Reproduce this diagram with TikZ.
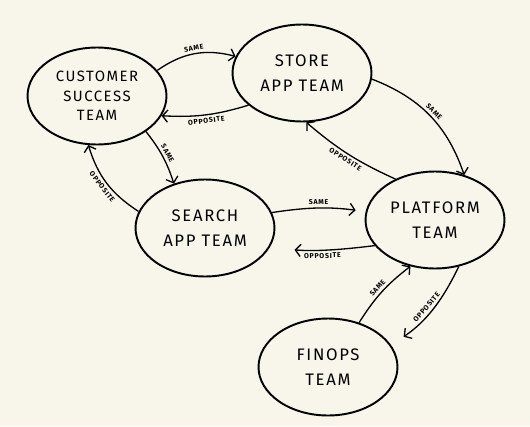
\documentclass[tikz,border=0pt]{standalone}
\usepackage{fontspec}
\setmainfont[LetterSpace=10]{Fira Sans}
\usetikzlibrary{shapes.geometric,arrows.meta}
\definecolor{paper}{HTML}{F8F6EA}

\begin{document}
\begin{tikzpicture}[x=0.02cm,y=-0.02cm,
  team/.style={ellipse,draw,line width=1.1pt,minimum width=2.78cm,minimum height=1.94cm,inner sep=0pt,align=center,font=\fontsize{9.5}{14}\selectfont},
  link/.style={-{Straight Barb[length=3pt,width=7pt]},line width=0.75pt},
  tag/.style={font=\fontsize{4}{5}\selectfont\bfseries,sloped,inner sep=1.5pt}]

\fill[paper] (0,0) rectangle (530,426);

\node[team,font=\fontsize{8.5}{11}\selectfont] (cust) at (97,96) {CUSTOMER\\SUCCESS\\TEAM};
\node[team] (store) at (302,73) {STORE\\APP TEAM};
\node[team] (search) at (205,228) {SEARCH\\APP TEAM};
\node[team] (plat) at (435,220) {PLATFORM\\TEAM};
\node[team] (fin) at (328,367) {FINOPS\\TEAM};

\draw[link] (cust.23) to[bend left=25] node[tag,above]{SAME} (store.166);
\draw[link] (store.211) to[bend left=10] node[tag,below]{OPPOSITE} (cust.-17);
\draw[link] (cust.-36) to[bend left=10] node[tag,above]{SAME} (search.125);
\draw[link] (search.166) to[bend left=20] node[tag,below]{OPPOSITE} (cust.260);
\draw[link] (store.-5) to[bend left=25] node[tag,above]{SAME} (plat.57);
\draw[link] (plat.134) to[bend left=8] node[tag,below]{OPPOSITE} (store.-85);
\draw[link,shorten >=0.2cm] (search.13) to[bend left=8] node[tag,above]{SAME} (plat.173);
\draw[link,shorten >=0.5cm] (plat.203) to[bend left=6] node[tag,below]{OPPOSITE} (search.-17);
\draw[link] (fin.55) to[bend left=10] node[tag,above]{SAME} (plat.242);
\draw[link,shorten >=0.3cm] (plat.-63) to[bend left=15] node[tag,above]{OPPOSITE} (fin.19);

\end{tikzpicture}
\end{document}
